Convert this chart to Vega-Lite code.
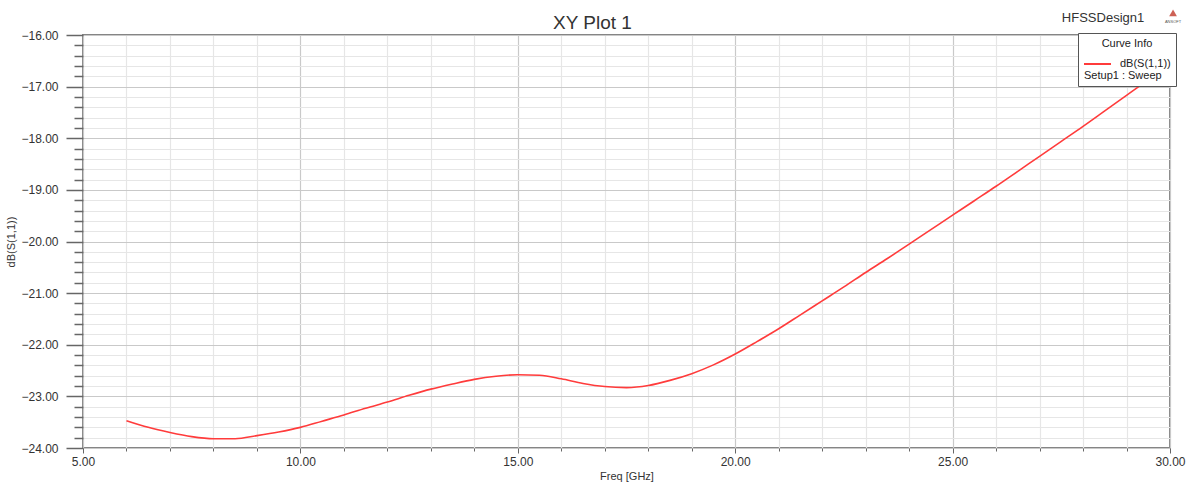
{
  "$schema": "https://vega.github.io/schema/vega-lite/v6.json",
  "autosize": {"type": "none"},
  "width": 1087,
  "height": 413,
  "padding": {"left": 83, "top": 35, "right": 23, "bottom": 38},
  "background": "white",
  "config": {
    "font": "Liberation Sans",
    "view": {"stroke": "#858585", "strokeWidth": 2},
    "axis": {"domain": false, "labelFont": "Liberation Sans", "titleFont": "Liberation Sans", "labelColor": "#333", "titleColor": "#333", "titleFontWeight": "normal", "tickColor": "#666", "labelOverlap": false, "labelBound": false, "labelFlush": false, "tickCount": 200}
  },
  "title": {"text": "XY Plot 1", "fontSize": 19, "fontWeight": "normal", "color": "#333", "font": "Liberation Sans", "anchor": "middle", "dx": -34, "baseline": "alphabetic", "offset": -39},
  "layer": [
    {
      "data": {"values": [
        {"f": 6.0, "v": -23.47, "curve": "dB(S(1,1))"},
        {"f": 6.5, "v": -23.60, "curve": "dB(S(1,1))"},
        {"f": 7.0, "v": -23.70, "curve": "dB(S(1,1))"},
        {"f": 7.5, "v": -23.78, "curve": "dB(S(1,1))"},
        {"f": 8.0, "v": -23.82, "curve": "dB(S(1,1))"},
        {"f": 8.5, "v": -23.82, "curve": "dB(S(1,1))"},
        {"f": 9.0, "v": -23.76, "curve": "dB(S(1,1))"},
        {"f": 9.5, "v": -23.69, "curve": "dB(S(1,1))"},
        {"f": 10.0, "v": -23.60, "curve": "dB(S(1,1))"},
        {"f": 10.5, "v": -23.48, "curve": "dB(S(1,1))"},
        {"f": 11.0, "v": -23.36, "curve": "dB(S(1,1))"},
        {"f": 11.5, "v": -23.23, "curve": "dB(S(1,1))"},
        {"f": 12.0, "v": -23.11, "curve": "dB(S(1,1))"},
        {"f": 12.5, "v": -22.98, "curve": "dB(S(1,1))"},
        {"f": 13.0, "v": -22.86, "curve": "dB(S(1,1))"},
        {"f": 13.5, "v": -22.76, "curve": "dB(S(1,1))"},
        {"f": 14.0, "v": -22.67, "curve": "dB(S(1,1))"},
        {"f": 14.5, "v": -22.61, "curve": "dB(S(1,1))"},
        {"f": 15.0, "v": -22.58, "curve": "dB(S(1,1))"},
        {"f": 15.5, "v": -22.59, "curve": "dB(S(1,1))"},
        {"f": 16.0, "v": -22.66, "curve": "dB(S(1,1))"},
        {"f": 16.5, "v": -22.75, "curve": "dB(S(1,1))"},
        {"f": 17.0, "v": -22.81, "curve": "dB(S(1,1))"},
        {"f": 17.5, "v": -22.83, "curve": "dB(S(1,1))"},
        {"f": 18.0, "v": -22.79, "curve": "dB(S(1,1))"},
        {"f": 18.5, "v": -22.69, "curve": "dB(S(1,1))"},
        {"f": 19.0, "v": -22.56, "curve": "dB(S(1,1))"},
        {"f": 19.5, "v": -22.39, "curve": "dB(S(1,1))"},
        {"f": 20.0, "v": -22.18, "curve": "dB(S(1,1))"},
        {"f": 20.5, "v": -21.94, "curve": "dB(S(1,1))"},
        {"f": 21.0, "v": -21.69, "curve": "dB(S(1,1))"},
        {"f": 21.5, "v": -21.42, "curve": "dB(S(1,1))"},
        {"f": 22.0, "v": -21.15, "curve": "dB(S(1,1))"},
        {"f": 22.5, "v": -20.88, "curve": "dB(S(1,1))"},
        {"f": 23.0, "v": -20.60, "curve": "dB(S(1,1))"},
        {"f": 23.5, "v": -20.33, "curve": "dB(S(1,1))"},
        {"f": 24.0, "v": -20.05, "curve": "dB(S(1,1))"},
        {"f": 24.5, "v": -19.77, "curve": "dB(S(1,1))"},
        {"f": 25.0, "v": -19.49, "curve": "dB(S(1,1))"},
        {"f": 25.5, "v": -19.21, "curve": "dB(S(1,1))"},
        {"f": 26.0, "v": -18.93, "curve": "dB(S(1,1))"},
        {"f": 26.5, "v": -18.64, "curve": "dB(S(1,1))"},
        {"f": 27.0, "v": -18.35, "curve": "dB(S(1,1))"},
        {"f": 27.5, "v": -18.06, "curve": "dB(S(1,1))"},
        {"f": 28.0, "v": -17.77, "curve": "dB(S(1,1))"},
        {"f": 28.5, "v": -17.47, "curve": "dB(S(1,1))"},
        {"f": 29.0, "v": -17.17, "curve": "dB(S(1,1))"},
        {"f": 29.5, "v": -16.87, "curve": "dB(S(1,1))"},
        {"f": 30.0, "v": -16.58, "curve": "dB(S(1,1))"}
      ]},
      "mark": {"type": "line", "strokeWidth": 1.6, "interpolate": "monotone"},
      "encoding": {
        "x": {
          "field": "f", "type": "quantitative",
          "scale": {"domain": [5, 30], "nice": false, "zero": false},
          "axis": {
            "title": "Freq [GHz]", "titleFontSize": 11, "titlePadding": 3,
            "values": [5,6,7,8,9,10,11,12,13,14,15,16,17,18,19,20,21,22,23,24,25,26,27,28,29,30],
            "labelExpr": "datum.value % 5 === 0 ? format(datum.value, '.2f') : ''",
            "labelFontSize": 12, "labelPadding": 3,
            "tickSize": {"condition": {"test": "datum.value % 5 === 0", "value": 5}, "value": 3},
            "gridColor": {"condition": {"test": "datum.value % 5 === 0", "value": "#c9c9c9"}, "value": "#e6e6e6"},
            "gridWidth": 1.2
          }
        },
        "y": {
          "field": "v", "type": "quantitative",
          "scale": {"domain": [-24, -16], "nice": false, "zero": false},
          "axis": {
            "title": "dB(S(1,1))", "titleFontSize": 11, "titlePadding": 4,
            "values": [-24,-23.8,-23.6,-23.4,-23.2,-23,-22.8,-22.6,-22.4,-22.2,-22,-21.8,-21.6,-21.4,-21.2,-21,-20.8,-20.6,-20.4,-20.2,-20,-19.8,-19.6,-19.4,-19.2,-19,-18.8,-18.6,-18.4,-18.2,-18,-17.8,-17.6,-17.4,-17.2,-17,-16.8,-16.6,-16.4,-16.2,-16],
            "labelExpr": "abs(round(datum.value * 5)) % 5 === 0 ? format(datum.value, '.2f') : ''",
            "labelFontSize": 12, "labelPadding": 8,
            "tickSize": {"condition": {"test": "abs(round(datum.value * 5)) % 5 === 0", "value": 17}, "value": 9},
            "tickWidth": 1.5,
            "gridColor": {"condition": {"test": "abs(round(datum.value * 5)) % 5 === 0", "value": "#c9c9c9"}, "value": "#e6e6e6"},
            "gridWidth": 1.2
          }
        },
        "color": {
          "field": "curve", "type": "nominal",
          "scale": {"domain": ["dB(S(1,1))", "Setup1 : Sweep"], "range": ["#ff3b3b", "rgba(0,0,0,0)"]},
          "legend": {
            "title": "Curve Info", "orient": "none", "legendX": 995, "legendY": -2,
            "fillColor": "white", "strokeColor": "#555", "padding": 5,
            "titleAnchor": "middle", "titleFontSize": 11, "titleFontWeight": "normal", "titleFont": "Liberation Sans", "titleColor": "#222", "titlePadding": 8,
            "labelFontSize": 11, "labelFont": "Liberation Sans", "labelColor": "#222",
            "symbolType": "M-1,0L3.5,0", "symbolSize": 144, "symbolStrokeWidth": 2,
            "labelAlign": "left", "labelOffset": -13, "rowPadding": 0,
            "encode": {"labels": {"update": {"dx": {"signal": "datum.value === 'dB(S(1,1))' ? 36 : 0"}}}}
          }
        }
      }
    },
    {
      "data": {"values": [{}]},
      "mark": {"type": "text", "fontSize": 13, "font": "Liberation Sans", "color": "#333", "align": "center", "baseline": "middle"},
      "encoding": {
        "x": {"datum": 28.46, "type": "quantitative"},
        "y": {"datum": -15.67, "type": "quantitative"},
        "text": {"value": "HFSSDesign1"}
      }
    },
    {
      "data": {"values": [{}]},
      "mark": {"type": "point", "shape": "triangle-up", "filled": true, "size": 60, "color": "#c0392b", "opacity": 0.8},
      "encoding": {
        "x": {"datum": 30.07, "type": "quantitative"},
        "y": {"datum": -15.57, "type": "quantitative"}
      }
    },
    {
      "data": {"values": [{}]},
      "mark": {"type": "text", "fontSize": 4, "font": "Liberation Sans", "color": "#555", "align": "center", "baseline": "middle"},
      "encoding": {
        "x": {"datum": 30.07, "type": "quantitative"},
        "y": {"datum": -15.75, "type": "quantitative"},
        "text": {"value": "ANSOFT"}
      }
    }
  ]
}
